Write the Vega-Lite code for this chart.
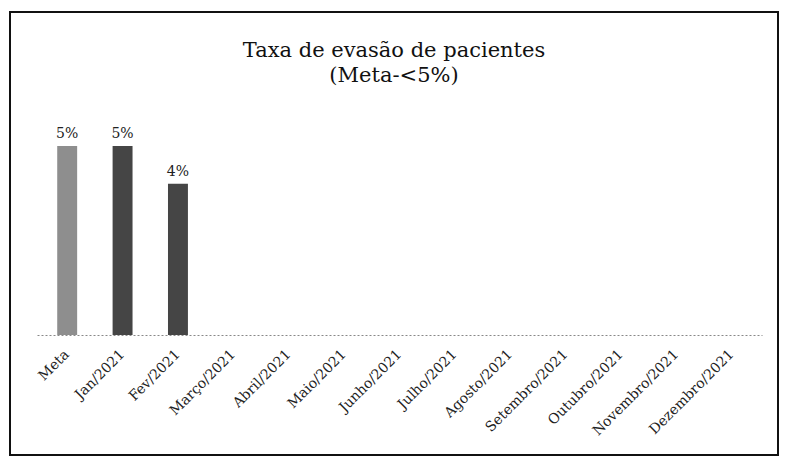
{
  "$schema": "https://vega.github.io/schema/vega-lite/v6.json",
  "width": 768,
  "height": 443,
  "autosize": {"type": "none"},
  "padding": {"left": 10, "top": 12, "right": 7, "bottom": 10},
  "background": "white",
  "config": {
    "view": {"stroke": "#111", "strokeWidth": 2},
    "font": "DejaVu Serif"
  },
  "title": {
    "text": ["Taxa de evasão de pacientes", "(Meta-<5%)"],
    "font": "DejaVu Serif",
    "fontSize": 21,
    "fontWeight": "normal",
    "color": "#111",
    "anchor": "middle",
    "frame": "group",
    "baseline": "top",
    "lineHeight": 25,
    "offset": -74
  },
  "data": {
    "values": [
      {"mes": "Meta", "taxa": 0.05, "tipo": "Meta"},
      {"mes": "Jan/2021", "taxa": 0.05, "tipo": "Realizado"},
      {"mes": "Fev/2021", "taxa": 0.04, "tipo": "Realizado"},
      {"mes": "Março/2021", "taxa": null, "tipo": "Realizado"},
      {"mes": "Abril/2021", "taxa": null, "tipo": "Realizado"},
      {"mes": "Maio/2021", "taxa": null, "tipo": "Realizado"},
      {"mes": "Junho/2021", "taxa": null, "tipo": "Realizado"},
      {"mes": "Julho/2021", "taxa": null, "tipo": "Realizado"},
      {"mes": "Agosto/2021", "taxa": null, "tipo": "Realizado"},
      {"mes": "Setembro/2021", "taxa": null, "tipo": "Realizado"},
      {"mes": "Outubro/2021", "taxa": null, "tipo": "Realizado"},
      {"mes": "Novembro/2021", "taxa": null, "tipo": "Realizado"},
      {"mes": "Dezembro/2021", "taxa": null, "tipo": "Realizado"}
    ]
  },
  "encoding": {
    "x": {
      "field": "mes",
      "type": "nominal",
      "sort": null,
      "scale": {
        "domain": ["Meta", "Jan/2021", "Fev/2021", "Março/2021", "Abril/2021", "Maio/2021", "Junho/2021", "Julho/2021", "Agosto/2021", "Setembro/2021", "Outubro/2021", "Novembro/2021", "Dezembro/2021"],
        "range": [27, 752],
        "paddingInner": 0.64,
        "paddingOuter": 0.365
      },
      "axis": {
        "title": null,
        "orient": "bottom",
        "offset": -120,
        "labelAngle": -45,
        "labelFont": "DejaVu Serif",
        "labelFontSize": 14,
        "labelColor": "#222",
        "labelPadding": 12,
        "labelOffset": -5,
        "ticks": false,
        "domainColor": "#888",
        "domainDash": [2, 2],
        "domainWidth": 1,
        "grid": false
      }
    },
    "y": {
      "field": "taxa",
      "type": "quantitative",
      "scale": {"domain": [-0.03175, 0.08545], "nice": false, "zero": false},
      "axis": null
    }
  },
  "layer": [
    {
      "mark": {"type": "bar"},
      "encoding": {
        "y2": {"datum": 0},
        "color": {
          "field": "tipo",
          "type": "nominal",
          "scale": {"domain": ["Meta", "Realizado"], "range": ["#8e8e8e", "#454545"]},
          "legend": null
        }
      }
    },
    {
      "mark": {"type": "text", "baseline": "bottom", "dy": -5, "font": "DejaVu Serif", "fontSize": 14, "color": "#222"},
      "encoding": {
        "text": {"field": "taxa", "type": "quantitative", "format": ".0%"}
      }
    }
  ]
}
